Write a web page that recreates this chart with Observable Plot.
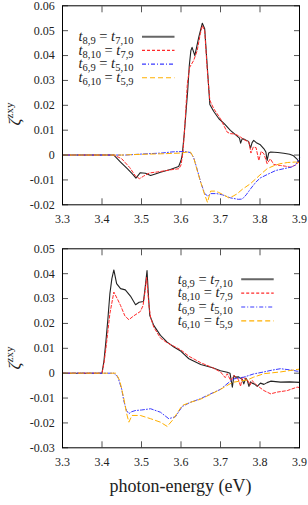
<!DOCTYPE html>
<html><head><meta charset="utf-8">
<script src="https://cdn.jsdelivr.net/npm/d3@7"></script>
<script src="https://cdn.jsdelivr.net/npm/@observablehq/plot@0.6"></script>
<style>
body{margin:0;background:#fff;}
#chart{width:308px;height:505px;overflow:hidden;}
#chart svg{display:block;}
#chart svg text{font-family:'Liberation Serif','Times New Roman',serif;}
</style></head><body><div id="chart"></div>
<script>
// ---------- axes ----------
const xDomain = [3.3, 3.9];
const xTicks = [3.3, 3.4, 3.5, 3.6, 3.7, 3.8, 3.9];
const topYDomain = [-0.02, 0.06];
const topYTicks = [-0.02, -0.01, 0, 0.01, 0.02, 0.03, 0.04, 0.05, 0.06];
const botYDomain = [-0.03, 0.05];
const botYTicks = [-0.03, -0.02, -0.01, 0, 0.01, 0.02, 0.03, 0.04, 0.05];
const xLabel = "photon-energy (eV)";
const yLabelMain = "ζ";
const yLabelSup = "zxy";
const legendSubA = ["8,9", "8,10", "6,9", "6,10"];
const legendSubB = ["7,10", "7,9", "5,10", "5,9"];

// ---------- top panel ----------
const topBlackE = [3.30,3.43,3.447,3.464,3.478,3.486,3.497,3.51,3.523,3.535,3.548,3.573,3.594,3.600,3.603,3.608,3.613,3.617,3.621,3.625,3.628,3.635,3.645,3.654,3.660,3.666,3.673,3.683,3.696,3.71,3.725,3.74,3.748,3.751,3.755,3.762,3.771,3.776,3.780,3.784,3.792,3.801,3.810,3.815,3.818,3.822,3.827,3.845,3.86,3.875,3.885,3.893,3.90];
const topBlackV = [0,0,-0.0028,-0.0055,-0.0078,-0.0093,-0.0071,-0.0073,-0.0082,-0.0076,-0.0069,-0.0058,-0.0046,-0.0022,0.000,0.008,0.018,0.026,0.036,0.042,0.0433,0.040,0.0474,0.053,0.0508,0.0367,0.0203,0.0175,0.0146,0.0125,0.0099,0.0079,0.0068,0.0048,0.0066,0.0062,0.0055,0.0028,0.0050,0.0059,0.0048,0.0041,0.0025,0.0012,-0.0022,0.0008,0.0012,0.0010,0.0007,0.0003,-0.0003,-0.0015,-0.003];

const topRedE = [3.30,3.43,3.45,3.47,3.485,3.495,3.505,3.52,3.54,3.56,3.58,3.595,3.600,3.605,3.611,3.616,3.622,3.632,3.641,3.649,3.654,3.660,3.666,3.673,3.683,3.700,3.708,3.717,3.725,3.735,3.745,3.751,3.762,3.772,3.777,3.783,3.790,3.797,3.803,3.810,3.818,3.826,3.835,3.852,3.865,3.877,3.89,3.90];
const topRedV = [0,0,-0.0015,-0.0050,-0.0085,-0.0095,-0.0085,-0.0072,-0.0068,-0.0063,-0.0058,-0.0055,-0.004,0.001,0.015,0.0287,0.0353,0.038,0.042,0.0488,0.052,0.050,0.0353,0.022,0.0186,0.0146,0.012,0.0092,0.0086,0.0085,0.0078,0.0072,0.0060,0.0052,0.0008,0.0032,0.0030,-0.0022,0.0015,0.0005,-0.0035,-0.0015,-0.0038,-0.0042,-0.0045,-0.0049,-0.0040,-0.0025];

const topBlueE = [3.30,3.46,3.50,3.55,3.58,3.60,3.615,3.624,3.632,3.641,3.650,3.660,3.668,3.675,3.690,3.705,3.725,3.745,3.755,3.765,3.776,3.790,3.801,3.820,3.840,3.860,3.880,3.890,3.90];
const topBlueV = [0,0,0.0004,0.0008,0.0013,0.0014,0.0013,0.0010,-0.0010,-0.0058,-0.0110,-0.0155,-0.0165,-0.0155,-0.0155,-0.0160,-0.0172,-0.0178,-0.0177,-0.0160,-0.0136,-0.0108,-0.0092,-0.0077,-0.0062,-0.0055,-0.0048,-0.0040,-0.0012];

const topOrangeE = [3.30,3.45,3.50,3.55,3.60,3.615,3.624,3.632,3.641,3.650,3.660,3.667,3.675,3.685,3.695,3.710,3.721,3.732,3.742,3.755,3.776,3.800,3.818,3.835,3.850,3.870,3.890,3.90];
const topOrangeV = [0,0,0.0003,0.0005,0.0008,0.0012,0.0012,-0.0010,-0.0062,-0.0110,-0.0160,-0.0190,-0.0145,-0.0145,-0.0150,-0.0162,-0.0172,-0.0165,-0.0156,-0.0138,-0.0115,-0.0080,-0.0055,-0.0043,-0.0035,-0.0030,-0.0028,-0.0030];

// ---------- bottom panel ----------
const botBlackE = [3.30,3.40,3.405,3.41,3.415,3.42,3.425,3.43,3.437,3.447,3.459,3.472,3.485,3.494,3.505,3.509,3.514,3.518,3.521,3.531,3.548,3.565,3.582,3.60,3.62,3.65,3.68,3.70,3.717,3.724,3.730,3.734,3.738,3.746,3.755,3.759,3.764,3.768,3.772,3.776,3.780,3.787,3.793,3.801,3.810,3.818,3.827,3.852,3.875,3.90];
const botBlackV = [0,0,0.005,0.013,0.022,0.032,0.038,0.0415,0.036,0.034,0.0335,0.031,0.0275,0.0285,0.0288,0.034,0.0413,0.030,0.0232,0.0192,0.0152,0.0125,0.0105,0.0088,0.0058,0.0035,0.0022,0.0010,0.0004,0.0,-0.0056,-0.0010,-0.0016,-0.0015,-0.0025,-0.0043,-0.0020,-0.0030,-0.0053,-0.0035,-0.0040,-0.0045,-0.0053,-0.0040,-0.0045,-0.0038,-0.0032,-0.0036,-0.0035,-0.0037];

const botRedE = [3.30,3.40,3.405,3.41,3.42,3.43,3.44,3.447,3.458,3.468,3.48,3.497,3.504,3.509,3.513,3.519,3.523,3.531,3.548,3.565,3.586,3.60,3.62,3.65,3.68,3.70,3.712,3.717,3.726,3.734,3.745,3.751,3.755,3.768,3.775,3.780,3.793,3.810,3.827,3.844,3.869,3.894,3.90];
const botRedV = [0,0,0.004,0.010,0.024,0.0326,0.0295,0.0272,0.023,0.0215,0.023,0.0248,0.0272,0.033,0.0385,0.027,0.0225,0.0185,0.0141,0.0122,0.0105,0.0093,0.0068,0.0042,0.0022,0.0005,-0.0018,-0.0002,-0.0030,-0.0009,-0.0025,-0.0053,-0.0015,-0.0027,-0.0048,-0.0030,-0.0050,-0.0070,-0.0083,-0.0076,-0.0070,-0.0056,-0.0058];

const botBlueE = [3.30,3.43,3.44,3.45,3.455,3.462,3.468,3.475,3.485,3.50,3.523,3.548,3.569,3.586,3.603,3.624,3.649,3.675,3.70,3.725,3.734,3.759,3.784,3.81,3.83,3.852,3.877,3.894,3.90];
const botBlueV = [0,0,-0.0015,-0.0065,-0.011,-0.015,-0.0163,-0.0155,-0.015,-0.0148,-0.0143,-0.0157,-0.0183,-0.0175,-0.0134,-0.0117,-0.0103,-0.0083,-0.0065,-0.0032,-0.0023,-0.0016,-0.0003,0.0005,0.0012,0.0018,0.0013,0.0008,0.0008];

const botOrangeE = [3.30,3.435,3.445,3.455,3.462,3.468,3.476,3.497,3.523,3.548,3.565,3.578,3.603,3.624,3.649,3.675,3.70,3.725,3.734,3.768,3.784,3.81,3.852,3.894,3.90];
const botOrangeV = [0,0,-0.003,-0.010,-0.016,-0.0197,-0.017,-0.017,-0.0183,-0.0197,-0.0214,-0.019,-0.013,-0.0117,-0.0105,-0.0085,-0.0065,-0.0042,-0.0036,-0.0027,-0.0016,-0.0002,0.0005,0.0015,0.0016];

// ---------- styles ----------
const seriesStyles = [
  {color: "#222222", dash: null, width: 1.1, legendColor: "#666666", legendWidth: 2},
  {color: "#ff2a2a", dash: "3,2", width: 1, legendColor: "#ff2a2a", legendWidth: 1.1},
  {color: "#3a3aff", dash: "4,2,1,2", width: 1, legendColor: "#3a3aff", legendWidth: 1.1},
  {color: "#ffb000", dash: "5,3", width: 1, legendColor: "#ffb000", legendWidth: 1.1}
];
const FONT = "'Liberation Serif', 'Times New Roman', serif";
const fmtY = d => d === 0 ? "0" : d.toFixed(2);
const fmtX = d => d.toFixed(1);

function toRows(E, V) { return E.map((e, i) => ({e, v: V[i]})); }

function lineMarks(sets) {
  return sets.map(([E, V], i) => Plot.line(toRows(E, V), {
    x: "e", y: "v", stroke: seriesStyles[i].color,
    strokeWidth: seriesStyles[i].width,
    strokeDasharray: seriesStyles[i].dash || undefined
  }));
}

function panel(yDomain, yTicks, sets, height, marginBottom) {
  return Plot.plot({
    width: 308, height,
    marginLeft: 62, marginRight: 9, marginTop: 5.3, marginBottom,
    x: {domain: xDomain},
    y: {domain: yDomain},
    style: {fontFamily: FONT, fontSize: "12px", color: "#222", background: "white", overflow: "visible"},
    marks: [
      ...lineMarks(sets),
      Plot.axisY(yTicks, {anchor: "left", tickSize: -6, tickPadding: 13.7, tickFormat: fmtY, label: null, stroke: "#555", fill: "#222", fontFamily: FONT}),
      Plot.axisY(yTicks, {anchor: "right", tickSize: -6, tickFormat: () => "", label: null, stroke: "#555"}),
      Plot.axisX(xTicks, {anchor: "bottom", tickSize: -6, tickPadding: 15.5, tickFormat: fmtX, label: null, stroke: "#555", fill: "#222", fontFamily: FONT}),
      Plot.axisX(xTicks, {anchor: "top", tickSize: -6, tickFormat: () => "", label: null, stroke: "#555"}),
      Plot.frame({stroke: "#000", strokeWidth: 1})
    ]
  });
}

function addLegend(svg, rightX, baseY0, rowH) {
  const g = d3.select(svg).append("g").attr("font-family", FONT);
  seriesStyles.forEach((s, i) => {
    const by = baseY0 + i * rowH;
    const t = g.append("text").attr("x", rightX).attr("y", by)
      .attr("text-anchor", "end").attr("font-size", 14.5).attr("fill", "#222");
    t.append("tspan").attr("font-style", "italic").text("t");
    t.append("tspan").attr("font-size", 10.5).attr("dy", 3).text(legendSubA[i]);
    t.append("tspan").attr("dy", -3).text(" = ");
    t.append("tspan").attr("font-style", "italic").text("t");
    t.append("tspan").attr("font-size", 10.5).attr("dy", 3).text(legendSubB[i]);
    g.append("line")
      .attr("x1", rightX + 8.5).attr("x2", rightX + 41)
      .attr("y1", by - 4.3).attr("y2", by - 4.3)
      .attr("stroke", s.legendColor).attr("stroke-width", s.legendWidth)
      .attr("stroke-dasharray", s.dash);
  });
}

function addYLabel(svg, cx, cy) {
  const t = d3.select(svg).append("text")
    .attr("transform", `translate(${cx},${cy}) rotate(-90)`)
    .attr("text-anchor", "middle").attr("font-family", FONT)
    .attr("font-size", 17).attr("fill", "#222");
  t.append("tspan").attr("font-style", "italic").text(yLabelMain);
  t.append("tspan").attr("font-size", 11).attr("dy", -7).text(yLabelSup);
}

const topSvg = panel(topYDomain, topYTicks,
  [[topBlackE, topBlackV], [topRedE, topRedV], [topBlueE, topBlueV], [topOrangeE, topOrangeV]], 243, 38.7);
addLegend(topSvg, 133.5, 41, 13.7);
addYLabel(topSvg, 20, 114);

const botSvg = panel(botYDomain, botYTicks,
  [[botBlackE, botBlackV], [botRedE, botRedV], [botBlueE, botBlueV], [botOrangeE, botOrangeV]], 262, 57.7);
addLegend(botSvg, 232.7, 283.5 - 243, 13.9);
addYLabel(botSvg, 20, 358 - 243);
d3.select(botSvg).append("text")
  .attr("x", 180.5).attr("y", 492 - 243).attr("text-anchor", "middle")
  .attr("font-family", FONT).attr("font-size", 18).attr("fill", "#222").text(xLabel);

document.getElementById("chart").append(topSvg, botSvg);
</script></body></html>
